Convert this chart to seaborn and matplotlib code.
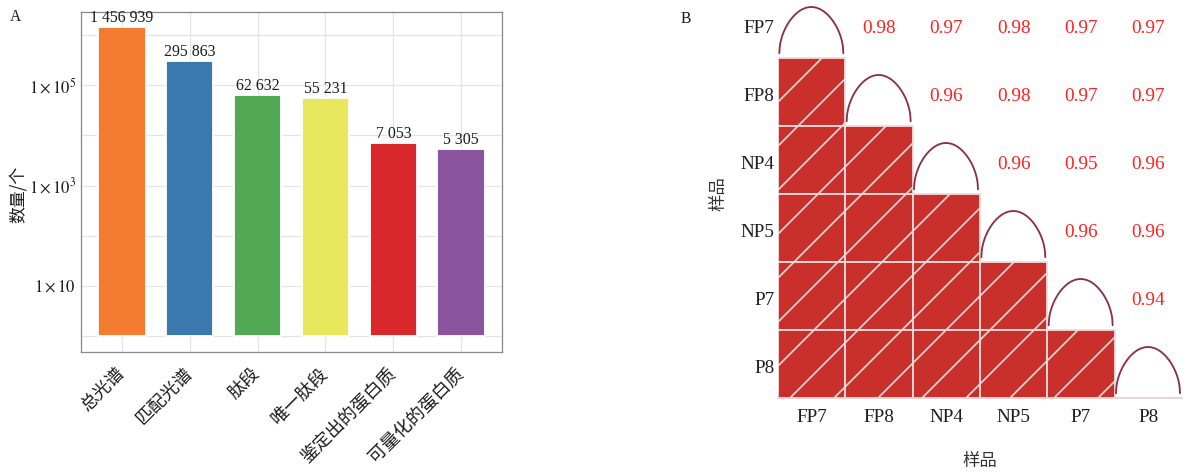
import numpy as np
import pandas as pd
import matplotlib
matplotlib.use("Agg")
import matplotlib.pyplot as plt
import seaborn as sns
from matplotlib.patches import Rectangle
from matplotlib.colors import ListedColormap
from matplotlib.ticker import FixedLocator, NullFormatter

# ---- Panel A: identification counts ----
categories = ["总光谱", "匹配光谱", "肽段", "唯一肽段", "鉴定出的蛋白质", "可量化的蛋白质"]
counts = [1456939, 295863, 62632, 55231, 7053, 5305]
count_labels = ["1 456 939", "295 863", "62 632", "55 231", "7 053", "5 305"]
bar_colors = ["#F47C30", "#3A78AE", "#53A854", "#E8E85C", "#D8282C", "#8A549E"]
ytick_values = [1e1, 1e3, 1e5]
ytick_labels = [r"$1\times10$", r"$1\times10^{3}$", r"$1\times10^{5}$"]
ygrid_values = [1e0, 1e2, 1e4, 1e6]

# ---- Panel B: sample correlation matrix ----
samples = ["FP7", "FP8", "NP4", "NP5", "P7", "P8"]
corr_rows = [
    [1.00, 0.98, 0.97, 0.98, 0.97, 0.97],
    [0.98, 1.00, 0.96, 0.98, 0.97, 0.97],
    [0.97, 0.96, 1.00, 0.96, 0.95, 0.96],
    [0.98, 0.98, 0.96, 1.00, 0.96, 0.96],
    [0.97, 0.97, 0.95, 0.96, 1.00, 0.94],
    [0.97, 0.97, 0.96, 0.96, 0.94, 1.00],
]

sns.set_theme(style="white")
plt.rcParams["font.family"] = ["Liberation Serif", "Noto Sans CJK SC"]
plt.rcParams["mathtext.fontset"] = "stix"
plt.rcParams["hatch.linewidth"] = 0.9

CJK = "Noto Sans CJK SC"
W, H, DPI = 1188, 473, 132
fig = plt.figure(figsize=(W / DPI, H / DPI), dpi=DPI)

# ================= Panel A =================
ax1 = fig.add_axes([81 / W, 1 - 352 / H, (502 - 81) / W, (352 - 12) / H])
df = pd.DataFrame({"cat": categories, "count": counts})
sns.barplot(data=df, x="cat", y="count", hue="cat", palette=bar_colors,
            width=0.7, saturation=1, legend=False, log_scale=True,
            bottom=1, ax=ax1, zorder=3)
ax1.set_ylim(0.486, 2.84e6)
ax1.set_xlim(-0.6, 5.6)

for cont, lab in zip(ax1.containers, count_labels):
    ax1.bar_label(cont, labels=[lab], padding=0.5, fontsize=8.7, color="#1a1a1a")

ax1.set_yticks(ytick_values, labels=ytick_labels)
ax1.yaxis.set_minor_locator(FixedLocator(ygrid_values))
ax1.yaxis.set_minor_formatter(NullFormatter())
ax1.grid(True, which="both", color="#E4E4E4", linewidth=0.7, zorder=0)
ax1.set_axisbelow(True)
ax1.tick_params(axis="both", which="major", direction="out", length=2.2,
                width=0.6, color="#666666", labelcolor="#1a1a1a")
ax1.tick_params(axis="y", which="major", labelsize=9, pad=0.5)
ax1.tick_params(axis="y", which="minor", length=0)
for sp in ax1.spines.values():
    sp.set_color("#8a8a8a")
    sp.set_linewidth(0.7)

ax1.set_xlabel("")
ax1.set_xticks(range(len(categories)))
ax1.set_xticklabels(categories, rotation=45, ha="right", va="center",
                    rotation_mode="anchor", family=CJK, fontsize=9.8)
ax1.tick_params(axis="x", pad=8)
ax1.set_ylabel("数量/个", family=CJK, fontsize=9.2, color="#1a1a1a")
ax1.yaxis.set_label_coords(-(81 - 28) / 421, (352 - 194) / 340)

# ================= Panel B =================
ax2 = fig.add_axes([778 / W, 1 - 398 / H, (1182 - 778) / W, (398 + 10) / H])
corr = pd.DataFrame(corr_rows, index=samples, columns=samples)
n = len(samples)
upper = np.triu(np.ones((n, n), dtype=bool), k=1)
sns.heatmap(corr, mask=~upper, cmap=ListedColormap(["white"]), cbar=False,
            annot=True, fmt=".2f",
            annot_kws=dict(color="#FF2020", fontsize=10.5), ax=ax2)

# nudge the value labels slightly below the row centres
for txt in ax2.texts:
    x, y = txt.get_position()
    txt.set_position((x, y + 0.06))

# lower triangle: hatched red squares
cell_red = "#C9302C"
for i in range(n):
    for j in range(i):
        ax2.add_patch(Rectangle((j, i), 1, 1, facecolor=cell_red,
                                edgecolor="#F2DADA", hatch="/",
                                linewidth=1.0, zorder=2))

# diagonal: arcs
t = np.linspace(0, 1, 200)
arc = np.sqrt(np.sin(np.pi * t))
for k in range(n):
    ax2.plot(k + 0.02 + 0.95 * t, k + 0.93 - 0.68 * arc,
             color="#8A2F45", linewidth=1.0, zorder=3, clip_on=False)

ax2.set_xlim(0, n)
ax2.set_ylim(n, 0)
for sp in ax2.spines.values():
    sp.set_visible(False)
ax2.spines["bottom"].set_visible(True)
ax2.spines["bottom"].set_color("#E8D2D2")
ax2.spines["bottom"].set_linewidth(1.0)

ax2.set_yticks(np.arange(n) + 0.56, labels=samples)
ax2.tick_params(axis="both", length=0, labelsize=10.5, labelcolor="#1f1f1f")
ax2.tick_params(axis="x", pad=6)
ax2.tick_params(axis="y", pad=2)
plt.setp(ax2.get_yticklabels(), rotation=0, va="center")
plt.setp(ax2.get_xticklabels(), rotation=0)
ax2.set_xlabel("样品", family=CJK, fontsize=9.5, color="#333333", labelpad=14)
ax2.set_ylabel("样品", family=CJK, fontsize=9.5, color="#333333", labelpad=7)

fig.text(10 / W, 1 - 21 / H, "A", fontsize=8.5, color="#1a1a1a")
fig.text(681 / W, 1 - 23 / H, "B", fontsize=8.5, color="#1a1a1a")

fig.savefig("out.png", dpi=DPI)
